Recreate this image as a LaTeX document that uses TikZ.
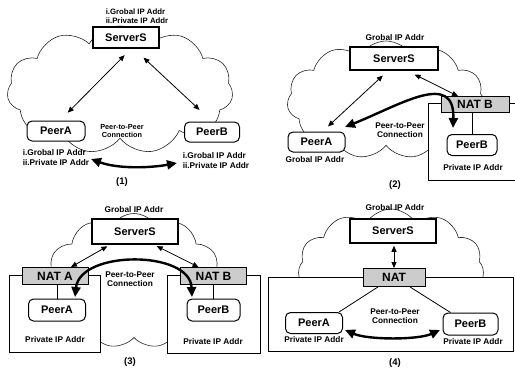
\documentclass[tikz,border=0pt]{standalone}
\usepackage{fontspec}
\setmainfont{Liberation Sans}
\usetikzlibrary{shapes.symbols,arrows.meta}
\begin{document}
\begin{tikzpicture}[x=1pt,y=-1pt,
  cloudbg/.style={cloud, cloud puffs=11, cloud puff arc=120, cloud ignores aspect, draw=black!85, line width=0.6pt, fill=white, inner sep=0pt},
  serverbox/.style={draw, line width=1.5pt, fill=white, font=\bfseries\fontsize{11}{13}\selectfont, inner sep=0pt},
  peerbox/.style={draw, rounded corners=5pt, line width=1pt, fill=white, font=\bfseries\fontsize{11}{13}\selectfont, inner sep=0pt},
  natbox/.style={draw, line width=0.9pt, fill=gray!40, font=\bfseries\fontsize{12}{14}\selectfont, inner sep=0pt},
  lbl/.style={font=\bfseries\fontsize{8.3}{9.5}\selectfont, inner sep=0pt, align=left},
  p2p/.style={font=\bfseries\fontsize{8.3}{9.2}\selectfont, inner sep=0pt, align=center},
  captxt/.style={font=\bfseries\fontsize{9.5}{11}\selectfont, inner sep=0pt},
  thinarr/.style={line width=0.8pt, {Triangle[length=6pt,width=5pt]}-{Triangle[length=6pt,width=5pt]}},
  thickarr/.style={line width=2.4pt, {Triangle[length=10pt,width=9pt]}-{Triangle[length=10pt,width=9pt]}},
  net/.style={draw, line width=0.8pt, fill=white},
  link/.style={line width=0.8pt},
]
\useasboundingbox (0,0) rectangle (515,370);

% ---------- Panel 1 ----------
\node[cloudbg, minimum width=226pt, minimum height=128pt] (c1) at (120,90) {};
\node[serverbox, minimum width=66pt, minimum height=21pt] (s1) at (126,37.5) {ServerS};
\node[lbl, font=\bfseries\fontsize{7.8}{8.8}\selectfont] (g1) at (137,16.5) {i.Grobal IP Addr\\ii.Private IP Addr};
\node[peerbox, minimum width=58pt, minimum height=20pt] (pa1) at (56,131) {PeerA};
\node[peerbox, minimum width=55pt, minimum height=20pt] (pb1) at (212,132) {PeerB};
\draw[thinarr, shorten <=9pt, shorten >=11pt] ([xshift=5pt]s1.south) -- ([xshift=4pt]pa1.north);
\draw[thinarr, shorten <=13pt, shorten >=17pt] ([xshift=8pt]s1.south) -- (pb1.north);
\coordinate (t1a) at (91,159);
\coordinate (t1b) at (177,163);
\draw[thickarr] (t1a) .. controls (118,169) and (150,168) .. (t1b);
\node[p2p, font=\bfseries\fontsize{7.3}{8.3}\selectfont] (pp1) at (122,131) {Peer-to-Peer\\Connection};
\node[lbl] (la1) at (56,157.5) {i.Grobal IP Addr\\ii.Private IP Addr};
\node[lbl] (lb1) at (216,160.5) {i.Grobal IP Addr\\ii.Private IP Addr};
\node[captxt] (n1) at (122,182) {(1)};

% ---------- Panel 2 ----------
\node[cloudbg, minimum width=198pt, minimum height=118pt] (c2) at (386,100) {};
\fill[white] (428,103) rectangle (515,180);
\draw[link] (515,103) -- (428,103) -- (428,180) -- (515,180);
\node[serverbox, minimum width=88pt, minimum height=23pt] (s2) at (394,58.5) {ServerS};
\node[lbl] (g2) at (395,38) {Grobal IP Addr};
\node[natbox, minimum width=68pt, minimum height=16pt] (nb2) at (475,104.5) {NAT B};
\node[peerbox, minimum width=50pt, minimum height=21pt] (pb2) at (472,145) {PeerB};
\draw[link] (pb2.north) -- (pb2.north |- nb2.south);
\node[peerbox, minimum width=57pt, minimum height=20pt] (pa2) at (316.5,142) {PeerA};
\node[lbl] (la2) at (315,160) {Grobal IP Addr};
\node[lbl] (lb2) at (473,168) {Private IP Addr};
\node[captxt] (n2) at (395,185) {(2)};
\draw[thinarr, shorten <=7pt, shorten >=7.5pt] ([xshift=-6pt]s2.south) -- ([xshift=6pt]pa2.north);
\draw[thinarr, shorten <=8.5pt] ([xshift=13pt]s2.south) -- ([xshift=-17pt]nb2.north);
\coordinate (t2a) at (345,127);
\coordinate (t2b) at (453,128);
\draw[thickarr] (t2a) .. controls (400,105) and (455,70) .. (t2b);
\node[p2p] (pp2) at (400,130) {Peer-to-Peer\\Connection};

% ---------- Panel 3 ----------
\node[cloudbg, minimum width=176pt, minimum height=135pt] (c3) at (134,281) {};
\draw[net] (9,275) rectangle (100,352);
\draw[net] (167,275) rectangle (260,353);
\node[serverbox, minimum width=86pt, minimum height=25pt] (s3) at (135,231.5) {ServerS};
\node[lbl] (g3) at (134,210) {Grobal IP Addr};
\node[natbox, minimum width=66pt, minimum height=17pt] (na3) at (55,276) {NAT A};
\node[peerbox, minimum width=57pt, minimum height=22pt] (pa3) at (57,310) {PeerA};
\draw[link] (pa3.north) -- (pa3.north |- na3.south);
\node[natbox, minimum width=66pt, minimum height=17pt] (nb3) at (213.5,276) {NAT B};
\node[peerbox, minimum width=53pt, minimum height=22pt] (pb3) at (213.5,310) {PeerB};
\draw[link] (pb3.north) -- (pb3.north |- nb3.south);
\node[lbl] (la3) at (55,340) {Private IP Addr};
\node[lbl] (lb3) at (213,342) {Private IP Addr};
\node[captxt] (n3) at (130,362) {(3)};
\draw[thinarr, shorten <=3pt] ([xshift=-25pt]s3.south) -- ([xshift=16pt]na3.north);
\draw[thinarr, shorten <=3pt] ([xshift=19pt]s3.south) -- ([xshift=-15pt]nb3.north);
\coordinate (t3a) at (75,297);
\coordinate (t3b) at (192,297);
\draw[thickarr] (t3a) .. controls (80,250) and (190,250) .. (t3b);
\node[p2p] (pp3) at (130,279) {Peer-to-Peer\\Connection};

% ---------- Panel 4 ----------
\node[cloudbg, minimum width=186pt, minimum height=118pt] (c4) at (391,268) {};
\draw[net] (268,277) rectangle (513,351);
\node[serverbox, minimum width=86pt, minimum height=24pt] (s4) at (393,231) {ServerS};
\node[lbl] (g4) at (395,208) {Grobal IP Addr};
\node[natbox, minimum width=62pt, minimum height=18pt] (n4) at (394,277.5) {NAT};
\draw[thinarr, shorten <=2pt] (s4.south -| n4.north) -- (n4.north);
\node[peerbox, minimum width=57pt, minimum height=21pt] (pa4) at (314,323) {PeerA};
\node[peerbox, minimum width=55pt, minimum height=22pt] (pb4) at (470.5,324) {PeerB};
\draw[link] ([xshift=-16pt]n4.south) -- ([xshift=-4pt]pa4.north east);
\draw[link] ([xshift=16pt]n4.south) -- ([xshift=8pt]pb4.north west);
\coordinate (t4a) at (345,330);
\coordinate (t4b) at (440,330);
\draw[thickarr] (t4a) .. controls (368,340) and (418,340) .. (t4b);
\node[p2p] (pp4) at (395,316) {Peer-to-Peer\\Connection};
\node[lbl] (la4) at (314,340) {Private IP Addr};
\node[lbl] (lb4) at (473,342) {Private IP Addr};
\node[captxt] (n4c) at (395,363) {(4)};
\end{tikzpicture}
\end{document}
